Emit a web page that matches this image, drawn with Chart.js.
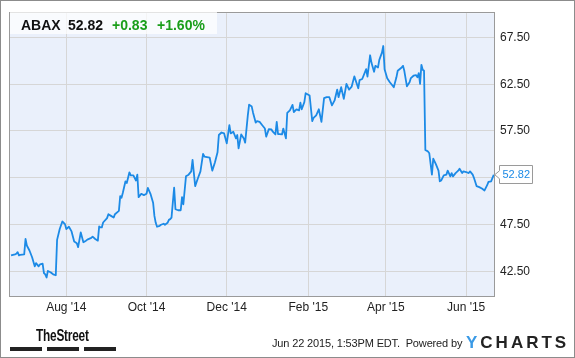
<!DOCTYPE html>
<html>
<head>
<meta charset="utf-8">
<script src="https://cdn.jsdelivr.net/npm/chart.js@4/dist/chart.umd.min.js"></script>
<style>
  html, body { margin: 0; padding: 0; background: #fff; }
  #wrap { position: relative; width: 575px; height: 358px; box-sizing: border-box; border: 1px solid #8c8c8c; overflow: hidden; font-family: "Liberation Sans", Arial, sans-serif; }
  #c { position: absolute; left: -1px; top: -1px; }
  #hdr { position: absolute; left: 9px; top: 9px; width: 207px; height: 24px; background: rgba(255,255,255,0.72); }
  .h { position: absolute; top: 16px; font: bold 14px "Liberation Sans", Arial, sans-serif; line-height: 16px; white-space: nowrap; }
  .blk { color: #111; }
  .grn { color: #1a9e1a; }
  #street { position: absolute; left: 35px; top: 327px; font: bold 16px "Liberation Sans", Arial, sans-serif; line-height: 16px; transform: scaleX(0.74); transform-origin: left center; color: #111; letter-spacing: -0.3px; }
  .bar { position: absolute; top: 346px; height: 4px; width: 32px; background: #222; }
  #stamp { position: absolute; left: 271px; top: 336px; font: 11px "Liberation Sans", Arial, sans-serif; line-height: 13px; color: #222; letter-spacing: -0.15px; white-space: nowrap; }
  #yc { position: absolute; left: 465px; top: 332px; font: bold 17px "Liberation Sans", Arial, sans-serif; line-height: 20px; letter-spacing: 3px; color: #222; white-space: nowrap; }
  #yc span { color: #3a9ae6; }
</style>
</head>
<body>
<div id="wrap">
  <canvas id="c" width="575" height="358"></canvas>
  <div id="hdr"></div>
  <span class="h blk" style="left:20px">ABAX</span>
  <span class="h blk" style="left:67px">52.82</span>
  <span class="h grn" style="left:111px">+0.83</span>
  <span class="h grn" style="left:156px">+1.60%</span>
  <div id="street">TheStreet</div>
  <div class="bar" style="left:9px"></div>
  <div class="bar" style="left:46px"></div>
  <div class="bar" style="left:83px"></div>
  <div id="stamp">Jun 22 2015, 1:53PM EDT.&nbsp; Powered by</div>
  <div id="yc"><span>Y</span>CHARTS</div>
</div>
<script>
// Days counted from 2014-08-01 (day 0)
const dayOffsets = [-42,-39,-38,-37,-36,-35,-32,-31,-30,-28,-26,-24,-23,-21,-20,-18,-17,-16,-15,-14,-12,-10,-8,-7,-5,-3,-1,0,2,4,6,8,9,11,13,15,16,19,20,22,24,25,26,27,28,31,32,34,36,37,40,41,42,43,45,46,48,49,51,53,54,55,57,59,61,62,64,66,67,68,69,71,72,74,75,77,78,79,80,82,83,85,87,88,89,91,93,95,96,98,100,102,104,105,109,111,113,115,116,118,120,122,124,125,127,129,130,131,133,135,136,138,139,141,142,144,145,147,149,151,152,154,156,157,159,160,161,162,164,165,167,168,170,172,173,175,177,178,179,181,182,185,187,188,190,192,194,196,198,200,202,204,206,207,209,211,213,215,217,219,222,223,225,228,229,231,232,234,235,237,238,240,241,242,244,246,248,249,251,252,255,256,257,259,261,262,264,266,267,268,269,270,271,272,273,275,276,278,279,281,283,284,285,287,289,290,292,293,294,296,298,299,301,302,304,306,307,309,310,312,314,316,318,320,321,323,325];
const prices = [44.19,44.30,44.37,44.54,44.19,44.26,44.30,45.95,45.25,44.72,44.00,43.02,43.37,43.02,43.23,43.30,42.31,42.17,41.83,42.53,42.39,42.17,42.07,45.85,47.01,47.82,47.54,47.01,47.26,46.76,45.67,45.49,45.07,46.65,45.60,45.77,45.88,46.06,46.20,45.95,45.77,47.29,47.18,47.18,47.71,48.18,48.60,48.42,48.24,48.60,48.95,50.54,50.36,50.89,52.12,51.94,53.08,52.76,52.76,52.20,52.83,50.43,50.78,50.64,50.78,51.42,50.78,49.83,48.42,47.68,47.26,47.36,47.47,47.58,47.47,47.68,47.99,48.07,48.24,51.45,49.13,49.02,49.02,50.43,49.66,52.65,52.83,53.18,54.42,51.60,52.41,53.18,55.06,54.77,54.66,53.26,54.13,55.23,57.07,57.34,57.24,56.18,58.12,57.24,57.42,56.71,57.07,55.65,57.13,56.71,56.25,59.15,60.32,60.11,59.46,58.40,58.55,58.47,58.12,57.76,56.89,57.70,57.66,57.42,57.13,58.47,57.17,57.17,57.13,57.76,56.71,59.43,59.71,60.30,59.53,59.82,59.71,60.52,59.82,60.59,61.54,61.30,58.55,58.90,59.18,59.82,58.47,61.01,61.12,61.12,60.24,60.77,61.93,61.12,62.18,60.94,62.53,61.93,62.25,63.34,62.07,62.95,63.06,64.11,63.31,65.60,64.82,63.84,64.47,64.29,65.11,65.88,66.59,64.11,63.13,62.71,62.36,62.18,63.24,63.94,64.29,64.47,63.94,62.28,62.71,63.16,63.41,63.48,63.24,63.69,62.53,64.58,64.05,63.94,55.48,55.30,55.12,52.83,54.53,53.96,53.26,52.12,52.20,52.76,52.83,53.26,52.65,53.00,52.65,53.00,53.26,53.47,53.00,53.18,53.11,53.00,53.18,52.83,52.47,51.60,51.49,51.35,51.14,51.70,52.05,52.12,52.82];
const xTickDays = [0, 61, 122, 184, 243, 304];
const xTickLabels = ["Aug '14", "Oct '14", "Dec '14", "Feb '15", "Apr '15", "Jun '15"];
const yTickValues = [42.5, 47.5, 52.5, 57.5, 62.5, 67.5];
const lastLabel = "52.82";

const LINE = '#1c8ae6';
const FONT = '"Liberation Sans", Arial, sans-serif';

const chromePlugin = {
  id: 'chrome',
  beforeDraw(chart) {
    const {ctx, chartArea: a} = chart;
    ctx.save();
    ctx.fillStyle = '#ffffff';
    ctx.fillRect(0, 0, chart.width, chart.height);
    ctx.fillStyle = '#eaf0fb';
    ctx.fillRect(a.left, a.top, a.right - a.left, a.bottom - a.top);
    ctx.restore();
  },
  afterDraw(chart) {
    const {ctx, chartArea: a} = chart;
    ctx.save();
    ctx.lineWidth = 1;
    ctx.strokeStyle = '#9a9a9a';
    ctx.strokeRect(Math.round(a.left) - 0.5, Math.round(a.top) - 0.5, Math.round(a.right - a.left) + 1, Math.round(a.bottom - a.top) + 1);
    // last value marker
    const xs = chart.scales.x, ys = chart.scales.y;
    const n = prices.length - 1;
    const px = xs.getPixelForValue(dayOffsets[n]);
    const py = ys.getPixelForValue(prices[n]);
    const bl = Math.round(px) + 5.5, br = bl + 33, bt = Math.round(py) - 9.5, bb = bt + 18;
    ctx.beginPath();
    ctx.moveTo(bl, bt);
    ctx.lineTo(br, bt);
    ctx.lineTo(br, bb);
    ctx.lineTo(bl, bb);
    ctx.lineTo(bl, py + 4);
    ctx.lineTo(px + 1, py);
    ctx.lineTo(bl, py - 4);
    ctx.closePath();
    ctx.fillStyle = '#ffffff';
    ctx.fill();
    ctx.strokeStyle = '#9a9a9a';
    ctx.stroke();
    ctx.fillStyle = LINE;
    ctx.font = '11px ' + FONT;
    ctx.textBaseline = 'middle';
    ctx.textAlign = 'left';
    ctx.fillText(lastLabel, bl + 3, (bt + bb) / 2 + 0.5);
    ctx.restore();
  }
};

new Chart(document.getElementById('c'), {
  type: 'line',
  data: {
    datasets: [{
      data: dayOffsets.map((d, i) => ({x: d, y: prices[i]})),
      borderColor: LINE,
      borderWidth: 1.8,
      pointRadius: 0,
      tension: 0,
      fill: false,
      borderJoinStyle: 'round'
    }]
  },
  options: {
    responsive: false,
    animation: false,
    layout: { padding: { left: 10, top: 10, right: 21, bottom: 40 } },
    plugins: { legend: { display: false }, tooltip: { enabled: false } },
    scales: {
      x: {
        type: 'linear',
        min: -42.8,
        max: 325.2,
        afterBuildTicks: s => { s.ticks = xTickDays.map(v => ({value: v})); },
        afterFit: s => { s.height = 22; },
        grid: { color: '#d6d6d6', drawTicks: false, lineWidth: 1 },
        border: { display: false },
        ticks: {
          autoSkip: false, maxRotation: 0, padding: 4,
          color: '#222', font: { family: FONT, size: 12 },
          callback: (v, i) => xTickLabels[i]
        }
      },
      y: {
        position: 'right',
        min: 39.85,
        max: 70.1,
        afterBuildTicks: s => { s.ticks = yTickValues.map(v => ({value: v})); },
        afterFit: s => { s.width = 60; },
        grid: { color: '#d6d6d6', drawTicks: false, lineWidth: 1 },
        border: { display: false },
        ticks: {
          padding: 6, color: '#222', font: { family: FONT, size: 12 },
          callback: v => Number(v).toFixed(2)
        }
      }
    }
  },
  plugins: [chromePlugin]
});
</script>
</body>
</html>
